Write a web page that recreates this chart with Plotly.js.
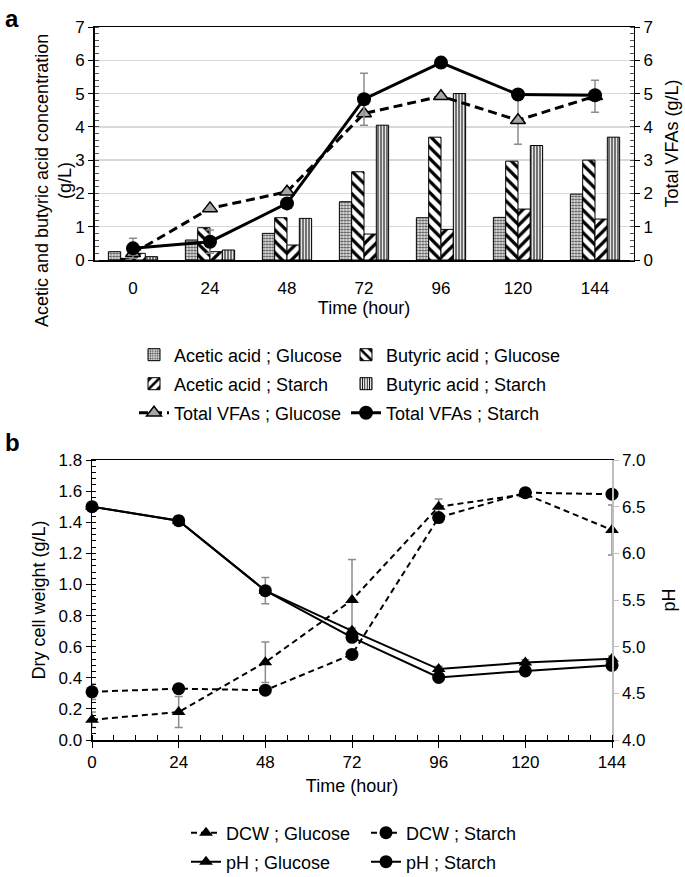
<!DOCTYPE html>
<html><head><meta charset="utf-8">
<script src="https://cdn.plot.ly/plotly-3.0.1.min.js"></script>
<style>html,body{margin:0;padding:0;background:#fff}#chart{width:685px;height:877px}</style>
</head><body><div id="chart"></div>
<script>
// ---- Data (panel a) ----
const hours = [0, 24, 48, 72, 96, 120, 144];
const hourLabels = ['0', '24', '48', '72', '96', '120', '144'];
const aceticGlucose  = [0.25, 0.60, 0.80, 1.75, 1.27, 1.28, 1.98];
const butyricGlucose = [0.05, 0.97, 1.27, 2.65, 3.69, 2.97, 3.00];
const aceticStarch   = [0.20, 0.25, 0.45, 0.78, 0.92, 1.53, 1.23];
const butyricStarch  = [0.10, 0.30, 1.25, 4.05, 5.00, 3.44, 3.69];
const vfaGlucose     = [0.20, 1.55, 2.05, 4.40, 4.92, 4.20, 4.92];
const vfaGlucoseErr  = [0, 0, 0, 0, 0, 0.72, 0.48];
const vfaStarch      = [0.35, 0.55, 1.70, 4.83, 5.93, 4.97, 4.95];
const vfaStarchErr   = [0.30, 0.35, 0, 0.78, 0, 0, 0];
// ---- Data (panel b) ----
const dcwGlucose     = [0.13, 0.18, 0.50, 0.90, 1.50, 1.58, 1.35];
const dcwGlucoseErr  = [0.05, 0.10, 0.13, 0.26, 0.05, 0.02, 0.16];
const dcwStarch      = [0.31, 0.33, 0.32, 0.55, 1.43, 1.59, 1.58];
const dcwStarchErr   = [0.05, 0.02, 0.02, 0.02, 0.02, 0.02, 0.02];
const phGlucose      = [6.50, 6.35, 5.60, 5.17, 4.76, 4.83, 4.87];
const phGlucoseErr   = [0.02, 0.05, 0.14, 0.03, 0.03, 0.03, 0.03];
const phStarch       = [6.50, 6.35, 5.60, 5.10, 4.67, 4.74, 4.80];
const phStarchErr    = [0.02, 0.05, 0.02, 0.03, 0.03, 0.03, 0.03];

const FONT = 'Arial, "Liberation Sans", sans-serif';
const errStyle = arr => ({type: 'data', array: arr, visible: true, color: '#8c8c8c', thickness: 1.5, width: 4});
const barLine = {color: '#000', width: 1};

const traces = [
  {type: 'bar', name: 'Acetic acid ; Glucose', x: hours, y: aceticGlucose, xaxis: 'x', yaxis: 'y', legend: 'legend',
   marker: {color: '#fff', line: barLine, pattern: {shape: '.', fgcolor: '#555', bgcolor: '#fff', size: 3, solidity: 0.5}}},
  {type: 'bar', name: 'Butyric acid ; Glucose', x: hours, y: butyricGlucose, xaxis: 'x', yaxis: 'y', legend: 'legend2',
   marker: {color: '#fff', line: barLine, pattern: {shape: '\\', fgcolor: '#000', bgcolor: '#fff', size: 8, solidity: 0.4}}},
  {type: 'bar', name: 'Acetic acid ; Starch', x: hours, y: aceticStarch, xaxis: 'x', yaxis: 'y', legend: 'legend3',
   marker: {color: '#fff', line: barLine, pattern: {shape: '/', fgcolor: '#000', bgcolor: '#fff', size: 8, solidity: 0.4}}},
  {type: 'bar', name: 'Butyric acid ; Starch', x: hours, y: butyricStarch, xaxis: 'x', yaxis: 'y', legend: 'legend4',
   marker: {color: '#fff', line: barLine, pattern: {shape: '|', fgcolor: '#000', bgcolor: '#fff', size: 3, solidity: 0.4}}},
  {type: 'scatter', mode: 'lines+markers', name: 'Total VFAs ; Glucose', x: hours, y: vfaGlucose, xaxis: 'x', yaxis: 'y2', legend: 'legend5',
   cliponaxis: false,
   line: {color: '#000', width: 3, dash: '9px,5px'},
   marker: {symbol: 'triangle-up', size: 13, color: '#a6a6a6', line: {color: '#000', width: 1.5}},
   error_y: errStyle(vfaGlucoseErr)},
  {type: 'scatter', mode: 'lines+markers', name: 'Total VFAs ; Starch', x: hours, y: vfaStarch, xaxis: 'x', yaxis: 'y2', legend: 'legend6',
   cliponaxis: false,
   line: {color: '#000', width: 3},
   marker: {symbol: 'circle', size: 14, color: '#000'},
   error_y: errStyle(vfaStarchErr)},
  {type: 'scatter', mode: 'lines+markers', name: 'DCW ; Glucose', x: hours, y: dcwGlucose, xaxis: 'x3', yaxis: 'y3', legend: 'legend7',
   cliponaxis: false,
   line: {color: '#000', width: 2, dash: '6px,4px'},
   marker: {symbol: 'triangle-up', size: 12, color: '#000'},
   error_y: errStyle(dcwGlucoseErr)},
  {type: 'scatter', mode: 'lines+markers', name: 'DCW ; Starch', x: hours, y: dcwStarch, xaxis: 'x3', yaxis: 'y3', legend: 'legend8',
   cliponaxis: false,
   line: {color: '#000', width: 2, dash: '6px,4px'},
   marker: {symbol: 'circle', size: 13, color: '#000'},
   error_y: errStyle(dcwStarchErr)},
  {type: 'scatter', mode: 'lines+markers', name: 'pH ; Glucose', x: hours, y: phGlucose, xaxis: 'x3', yaxis: 'y4', legend: 'legend9',
   cliponaxis: false,
   line: {color: '#000', width: 2},
   marker: {symbol: 'triangle-up', size: 12, color: '#000'},
   error_y: errStyle(phGlucoseErr)},
  {type: 'scatter', mode: 'lines+markers', name: 'pH ; Starch', x: hours, y: phStarch, xaxis: 'x3', yaxis: 'y4', legend: 'legend10',
   cliponaxis: false,
   line: {color: '#000', width: 2},
   marker: {symbol: 'circle', size: 13, color: '#000'},
   error_y: errStyle(phStarchErr)}
];

const W = 685, H = 877;
const px = v => v / W, py = v => 1 - v / H;
const tickFont = {family: FONT, size: 17, color: '#000'};
const legendAt = (textX, textY) => ({
  x: px(textX - 42), xanchor: 'left', y: py(textY), yanchor: 'middle',
  orientation: 'v', font: {family: FONT, size: 18, color: '#000'},
  bgcolor: 'rgba(0,0,0,0)', borderwidth: 0, itemwidth: 30
});

const layout = {
  width: W, height: H, autosize: false,
  margin: {l: 0, r: 0, t: 0, b: 0, autoexpand: false},
  paper_bgcolor: '#fff', plot_bgcolor: 'rgba(0,0,0,0)',
  font: {family: FONT, size: 17, color: '#000'},
  barmode: 'group', bargap: 0.36, bargroupgap: 0,
  showlegend: true,
  xaxis: {domain: [px(94.5), px(633.5)], anchor: 'y', range: [-12, 156],
    tickvals: hours, ticktext: hourLabels, ticks: 'outside', ticklen: 12, tickcolor: 'rgba(0,0,0,0)',
    showgrid: false, zeroline: false,
    showline: true, linecolor: '#000', linewidth: 1.5, mirror: true, tickfont: tickFont,
    title: {text: 'Time (hour)', font: {family: FONT, size: 18}, standoff: 4}},
  yaxis: {domain: [py(260), py(27)], anchor: 'x', range: [0, 7], dtick: 1, tickfont: tickFont,
    showgrid: true, gridcolor: '#d9d9d9', gridwidth: 1.5, zeroline: false,
    showline: true, linecolor: '#000', linewidth: 1.5, ticks: 'outside', ticklen: 5, tickcolor: '#000',
    minor: {dtick: 0.2, ticks: 'inside', ticklen: 4, tickcolor: '#555', showgrid: false}},
  yaxis2: {overlaying: 'y', side: 'right', anchor: 'x', range: [0, 7], dtick: 1, tickfont: tickFont,
    showgrid: false, zeroline: false, showline: true, linecolor: '#000', linewidth: 1.5,
    ticks: 'outside', ticklen: 5, tickcolor: '#000',
    minor: {dtick: 0.2, ticks: 'inside', ticklen: 4, tickcolor: '#555'},
    title: {text: 'Total VFAs (g/L)', font: {family: FONT, size: 18}, standoff: 13}},
  xaxis3: {domain: [px(92), px(612)], anchor: 'y3', range: [0, 144], tickvals: hours, ticktext: hourLabels,
    ticks: 'outside', ticklen: 6, tickcolor: '#000', tickfont: tickFont, showgrid: false, zeroline: false,
    showline: true, linecolor: '#000', linewidth: 1.5, mirror: true,
    minor: {dtick: 6, ticks: 'inside', ticklen: 5, tickcolor: '#000'},
    title: {text: 'Time (hour)', font: {family: FONT, size: 18}, standoff: 8}},
  yaxis3: {domain: [py(740), py(460)], anchor: 'x3', range: [0, 1.8], dtick: 0.2, tickformat: '.1f',
    tickfont: tickFont, showgrid: false, zeroline: false, showline: true, linecolor: '#000', linewidth: 1.5,
    ticks: 'outside', ticklen: 5, tickcolor: '#000',
    minor: {dtick: 0.04, ticks: 'inside', ticklen: 4, tickcolor: '#000'},
    title: {text: 'Dry cell weight (g/L)', font: {family: FONT, size: 18}, standoff: 8}},
  yaxis4: {overlaying: 'y3', side: 'right', anchor: 'x3', range: [4, 7], dtick: 0.5, tickformat: '.1f',
    tickfont: tickFont, showgrid: false, zeroline: false, showline: true, linecolor: '#bfbfbf', linewidth: 1.5,
    ticks: 'outside', ticklen: 5, tickcolor: '#bfbfbf',
    title: {text: 'pH', font: {family: FONT, size: 18}, standoff: 18}},
  legend:   legendAt(176, 355),
  legend2:  legendAt(388, 355),
  legend3:  legendAt(176, 384),
  legend4:  legendAt(388, 384),
  legend5:  legendAt(176, 413),
  legend6:  legendAt(388, 413),
  legend7:  legendAt(228, 833),
  legend8:  legendAt(408, 833),
  legend9:  legendAt(228, 862),
  legend10: legendAt(408, 862),
  annotations: [
    {text: '<b>a</b>', xref: 'paper', yref: 'paper', x: px(3), y: py(3), xanchor: 'left', yanchor: 'top',
     showarrow: false, font: {family: FONT, size: 24}},
    {text: '<b>b</b>', xref: 'paper', yref: 'paper', x: px(3), y: py(427), xanchor: 'left', yanchor: 'top',
     showarrow: false, font: {family: FONT, size: 24}},
    {text: 'Acetic and butyric acid concentration<br>(g/L)', xref: 'paper', yref: 'paper',
     x: px(53), y: py(181), xanchor: 'center', yanchor: 'middle', textangle: -90, showarrow: false,
     font: {family: FONT, size: 18}}
  ]
};

Plotly.newPlot('chart', traces, layout, {displayModeBar: false, staticPlot: true});
</script></body></html>
